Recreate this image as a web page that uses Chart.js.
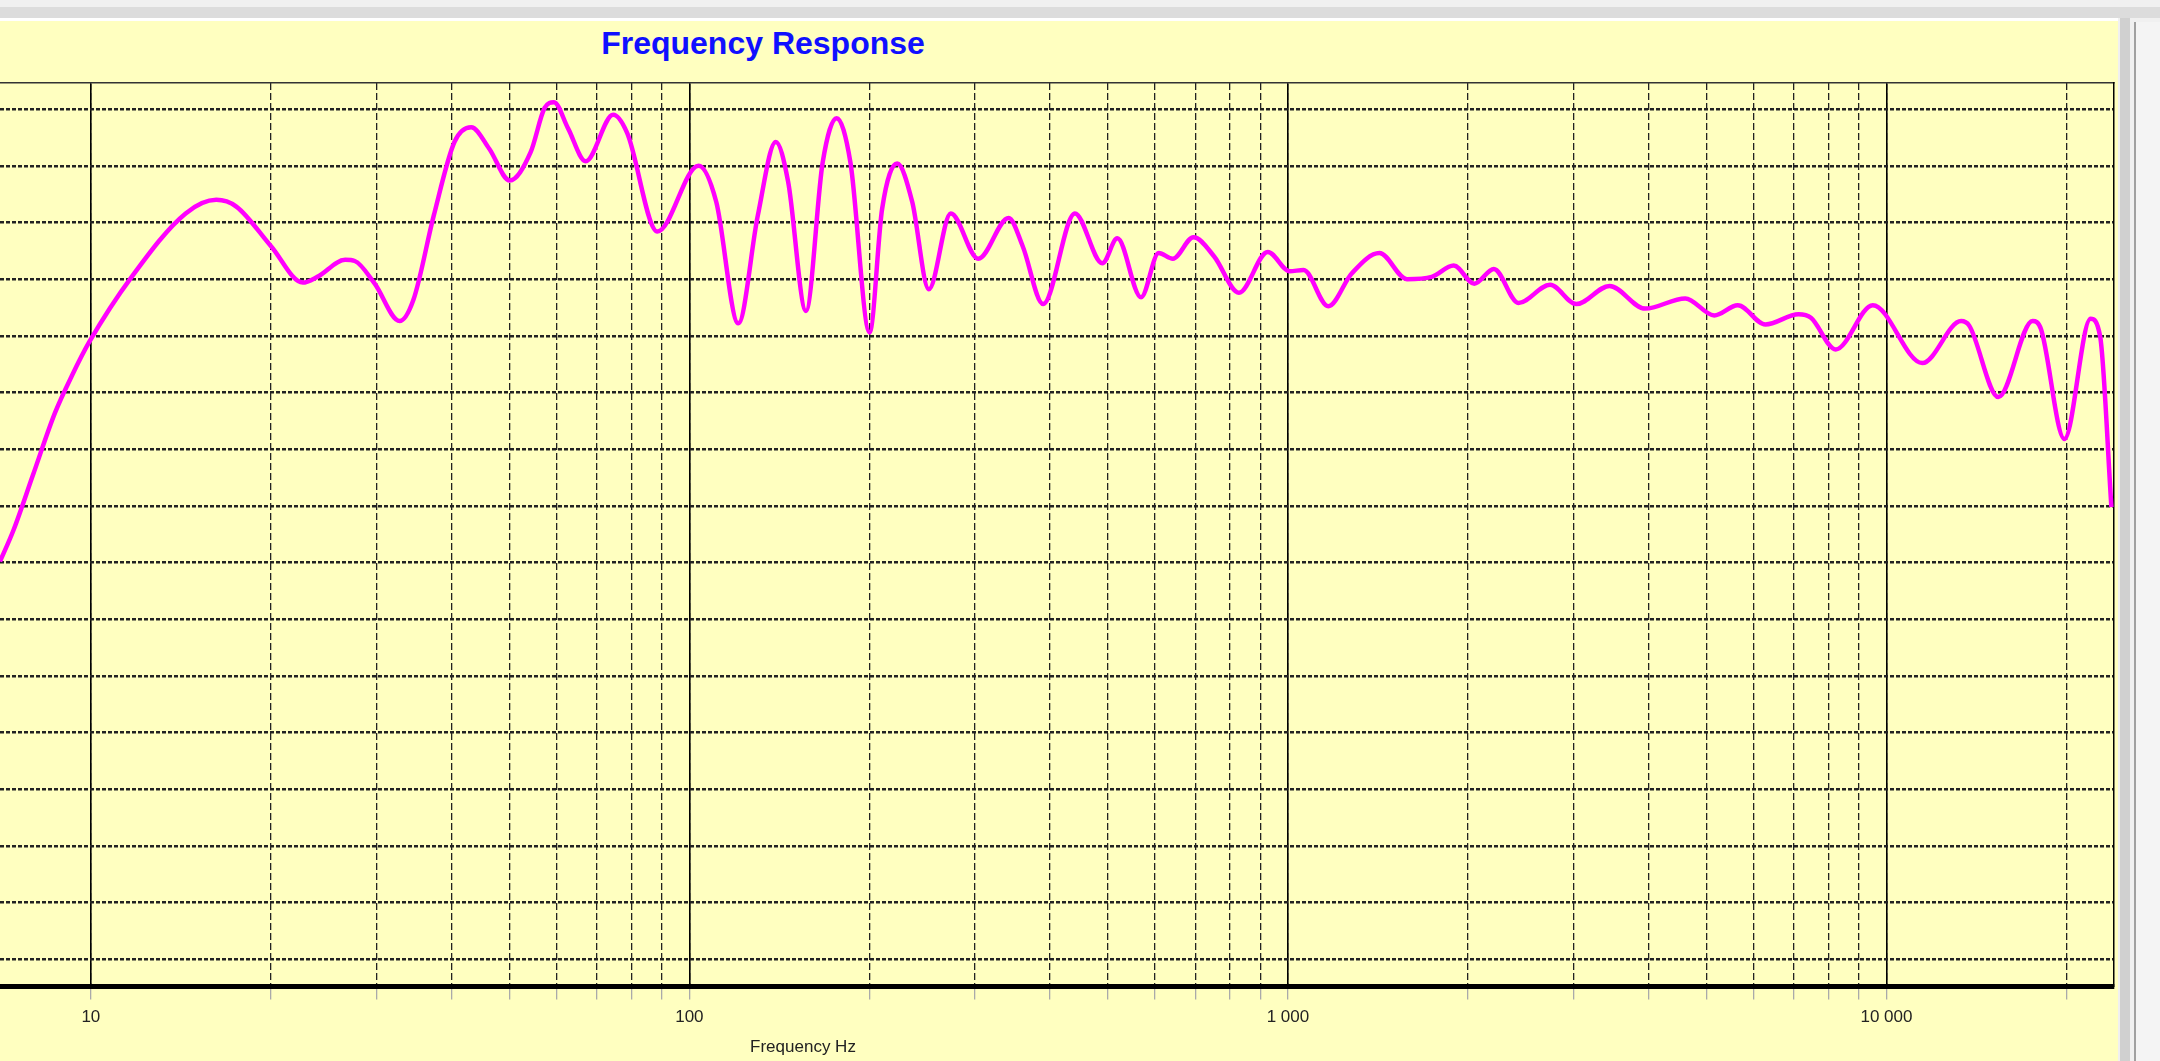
<!DOCTYPE html>
<html><head><meta charset="utf-8">
<script src="https://cdn.jsdelivr.net/npm/chart.js@4/dist/chart.umd.min.js"></script>
<style>
html,body{margin:0;padding:0;width:2160px;height:1061px;overflow:hidden;background:#f0f0f0;}
#yel{position:absolute;left:0;top:21px;width:2118px;height:1040px;background:#ffffc0;}
#g1{position:absolute;left:0;top:7px;width:2160px;height:11px;background:#dcdcdc;}
#g2{position:absolute;left:0;top:18px;width:2118px;height:3px;background:#ffffff;}
#rp{position:absolute;left:2120px;top:18px;width:10px;height:1043px;background:#d0d0d0;}
#rp2{position:absolute;left:2134px;top:22px;width:26px;height:1039px;background:#f4f4f4;border-left:2px solid #a0a0a0;}
#wrap{position:absolute;left:0;top:0;width:2160px;height:1061px;}
#ttl{position:absolute;left:513px;width:500px;top:25px;text-align:center;font:bold 32px "Liberation Sans",Arial,sans-serif;color:#1010ff;}
#xt{position:absolute;left:703px;width:200px;top:1037px;text-align:center;font:17px "Liberation Sans",Arial,sans-serif;color:#222;}
</style></head>
<body>
<div id="yel"></div><div id="g1"></div><div id="g2"></div><div id="rp"></div><div id="rp2"></div>
<div id="ttl">Frequency Response</div>
<div id="wrap"><canvas id="c"></canvas></div>
<div id="xt">Frequency Hz</div>
<script>
const freqHz = [7.05,7.43,8.0,8.71,9.3,9.95,11.7,14.4,16.2,17.5,20.0,22.6,23.9,26.6,27.6,29.8,32.8,34.6,37.4,40.5,43.2,46.3,50.1,54.3,57.3,59.4,62.7,67.1,74.6,78.7,88.4,103.6,110.9,120.7,130.1,139.4,146.2,156.6,167.0,176.2,185.8,200.0,209.9,222.4,235.7,251.2,273.4,303.9,341.5,360.5,390.0,440.6,489.7,518.8,568.4,608.4,642.3,695.5,753.0,828.4,925.4,1007,1062,1168,1278,1422,1581,1739,1892,2049,2208,2428,2742,3033,3447,3954,4612,5155,5644,6279,7130,7479,8226,9489,11480,13330,13750,15380,17550,18120,19830,21930,22760,23760];
const levelDb = [-29.9,-27.1,-22.3,-16.8,-13.5,-10.5,-4.8,0.8,2.0,1.4,-2.1,-5.3,-4.8,-3.3,-3.4,-5.4,-8.7,-6.8,0.6,7.1,8.4,6.5,3.7,6.2,10.1,10.6,8.3,5.4,9.5,7.9,-0.8,5.0,1.8,-8.9,0.6,7.1,3.6,-7.8,5.3,9.2,5.3,-9.7,1.2,5.2,1.8,-5.9,0.8,-3.2,0.4,-2.1,-7.2,0.8,-3.6,-1.4,-6.6,-2.7,-3.2,-1.3,-3.0,-6.2,-2.6,-4.3,-4.2,-7.4,-4.5,-2.7,-5.0,-4.8,-3.8,-5.4,-4.1,-7.1,-5.5,-7.2,-5.6,-7.6,-6.7,-8.2,-7.3,-9.0,-8.1,-8.4,-11.2,-7.3,-12.4,-8.7,-9.1,-15.4,-8.7,-9.4,-19.1,-8.5,-10.1,-25.1];
const majorTicks = [10,100,1000,10000];
const minorTicks = [20,30,40,50,60,70,80,90,200,300,400,500,600,700,800,900,2000,3000,4000,5000,6000,7000,8000,9000,20000];
const tickLabels = ["10","100","1 000","10 000"];
const yGridDb = [10,5,0,-5,-10,-15,-20,-25,-30,-35,-40,-45,-50,-55,-60,-65];
const X_MIN = 7.05, X_MAX = 24000, Y_MIN = -67.4, Y_MAX = 12.3;

const allTicks = majorTicks.concat(minorTicks).sort((a,b)=>a-b);
new Chart(document.getElementById('c'), {
  type: 'line',
  data: { datasets: [{ data: freqHz.map((f,i)=>({x:f,y:levelDb[i]})), borderColor:'#ff00ff', borderWidth:4.5, pointRadius:0, cubicInterpolationMode:'monotone', fill:false }] },
  options: {
    responsive:true, maintainAspectRatio:false, animation:false,
    layout:{ padding:{ left:0, right:46, top:83, bottom:25 } },
    plugins:{ legend:{display:false}, tooltip:{enabled:false} },
    scales:{
      x:{ type:'logarithmic', min:X_MIN, max:X_MAX, position:'bottom',
        afterBuildTicks:s=>{ s.ticks = allTicks.map(v=>({value:v})); },
        grid:{ color:'#222', lineWidth:1.3, tickLength:13, tickColor:'#aaa', tickWidth:1.3 },
        border:{ display:true, color:'#000', width:5, dash:[7,3] },
        ticks:{ autoSkip:false, maxRotation:0, padding:8, color:'#222', font:{family:'Liberation Sans, Arial', size:17},
          callback:(v)=>{ const i = majorTicks.indexOf(v); return i>=0 ? tickLabels[i] : ''; } } },
      xMaj:{ type:'logarithmic', min:X_MIN, max:X_MAX, position:'top', display:true,
        afterBuildTicks:s=>{ s.ticks = majorTicks.map(v=>({value:v})); },
        grid:{ color:'#000', lineWidth:1.6, drawTicks:false },
        border:{ display:true, color:'#333', width:1.5 },
        ticks:{ display:false, padding:0 } },
      y:{ min:Y_MIN, max:Y_MAX, display:true,
        afterBuildTicks:s=>{ s.ticks = yGridDb.map(v=>({value:v})); },
        grid:{ color:'#222', lineWidth:2.5, drawTicks:false },
        border:{ display:false, dash:[4,2] },
        ticks:{ display:false, padding:0 } },
      yR:{ min:Y_MIN, max:Y_MAX, position:'right', display:true,
        grid:{ display:false, drawTicks:false }, border:{ display:true, color:'#000', width:1.5 },
        ticks:{ display:false, padding:0 } }
    }
  }
});
</script>
</body></html>
